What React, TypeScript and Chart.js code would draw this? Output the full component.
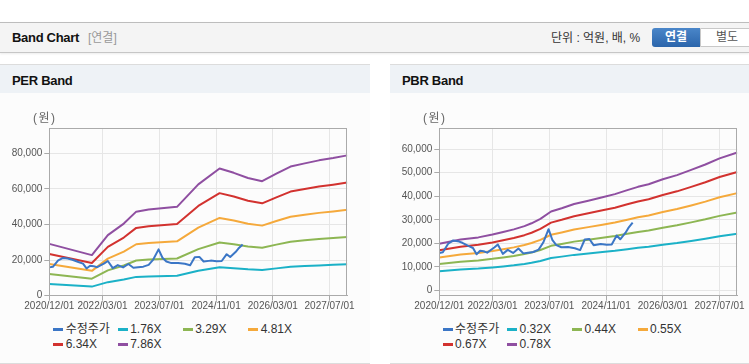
import React, { useEffect, useRef } from "react";
import { Chart, registerables } from "chart.js";

Chart.register(...registerables);

// ---------- DATA ----------
const X_TICK_LABELS = ["2020/12/01", "2022/03/01", "2023/07/01", "2024/11/01", "2026/03/01", "2027/07/01"];
const X_START = "2020/12/01";
const X_END = "2027/12/01";

// adjusted share price (months since 2020/12/01)
const PRICE_MONTHS = [0, 1, 2.5, 3.9, 5.2, 6.5, 8.2, 9.5, 10.5, 11.5, 12.5, 13.5, 15.5, 16.5, 17.9, 19.3, 20.8, 22.3, 23.7, 25, 26.5, 28, 29.3, 30.8, 31.9, 33, 34.4, 36.3, 38.2, 39.7, 41, 42.3, 43.5, 45.5, 47.2, 48.6, 50, 51, 52.5, 53.3, 54.5];
const PRICE_VALUES = [15900, 16200, 19800, 21200, 20900, 20200, 18900, 18000, 15300, 16800, 16600, 16000, 18200, 19500, 15500, 17200, 15900, 17800, 15700, 16000, 16300, 17300, 20300, 26000, 21300, 19200, 18300, 18400, 17900, 17100, 21600, 21800, 19200, 19700, 19400, 19500, 23300, 21700, 24500, 26500, 28800];

// PER band
const PER_BAND_MONTHS = [0, 12, 16.5, 21, 24.5, 28, 36, 42, 48, 52, 56, 60, 64, 68, 72, 76, 80, 84];
const PER_NAMES = ["1.76X", "3.29X", "4.81X", "6.34X", "7.86X"];
const PER_176 = [6520, 5110, 7610, 9070, 10570, 10840, 11170, 14000, 15990, 15450, 14800, 14400, 15340, 16230, 16640, 17020, 17310, 17650];
const PER_329 = [12180, 9540, 14230, 16950, 19760, 20260, 20890, 26160, 29890, 28880, 27670, 26920, 28670, 30350, 31100, 31810, 32360, 32980];
const PER_481 = [17810, 13950, 20810, 24780, 28890, 29620, 30540, 38250, 43690, 42230, 40450, 39350, 41920, 44370, 45470, 46510, 47310, 48220];
const PER_634 = [23470, 18390, 27430, 32670, 38070, 39040, 40250, 50410, 57590, 55660, 53320, 51870, 55250, 58480, 59930, 61300, 62350, 63560];
const PER_786 = [29100, 22800, 34000, 40500, 47200, 48400, 49900, 62500, 71400, 69000, 66100, 64300, 68500, 72500, 74300, 76000, 77300, 78800];
const PER_Y_TICKS = [0, 20000, 40000, 60000, 80000];

// PBR band
const PBR_BAND_MONTHS = [0, 6, 11, 15, 18, 21, 24, 26, 28.5, 31.5, 34.5, 38, 42, 46, 49.5, 53, 56, 59, 63, 67, 71, 75, 79, 84];
const PBR_NAMES = ["0.32X", "0.44X", "0.55X", "0.67X", "0.78X"];
const PBR_032 = [8120, 8860, 9230, 9720, 10170, 10630, 11200, 11690, 12470, 13740, 14320, 15060, 15630, 16250, 16780, 17480, 18050, 18500, 19360, 20100, 21010, 21950, 23020, 24040];
const PBR_044 = [11170, 12190, 12690, 13370, 13990, 14610, 15400, 16080, 17150, 18900, 19690, 20700, 21490, 22340, 23070, 24030, 24820, 25440, 26630, 27640, 28880, 30180, 31650, 33060];
const PBR_055 = [13960, 15230, 15870, 16710, 17490, 18260, 19250, 20100, 21440, 23620, 24610, 25880, 26870, 27920, 28840, 30040, 31030, 31800, 33280, 34550, 36100, 37720, 39560, 41320];
const PBR_067 = [17010, 18550, 19330, 20360, 21300, 22250, 23450, 24480, 26110, 28780, 29980, 31520, 32730, 34020, 35130, 36590, 37800, 38740, 40540, 42090, 43980, 45960, 48190, 50340];
const PBR_078 = [19800, 21600, 22500, 23700, 24800, 25900, 27300, 28500, 30400, 33500, 34900, 36700, 38100, 39600, 40900, 42600, 44000, 45100, 47200, 49000, 51200, 53500, 56100, 58600];
const PBR_Y_TICKS = [0, 10000, 20000, 30000, 40000, 50000, 60000];

const PRICE_NAME = "수정주가";
const COLORS = ["#3b76c6", "#1bb1c7", "#8db653", "#f5a93b", "#d2322f", "#8f4fa1"];

// ---------- helpers ----------
const FONT = "'Liberation Sans', 'Noto Sans CJK KR', sans-serif";
const monthIndex = (label: string) => {
  const [y, m] = label.split("/").map(Number);
  return (y - 2020) * 12 + (m - 12);
};
const pts = (xs: number[], ys: number[]) => xs.map((x, i) => ({ x, y: ys[i] }));

type BandProps = {
  left: number;
  width: number;
  padRight: number;
  bandMonths: number[];
  bands: number[][];
  yMin: number;
  yMax: number;
  yTicks: number[];
};

const borderPlugin = {
  id: "plotBorder",
  afterDraw(chart: any) {
    const { ctx, chartArea } = chart;
    ctx.save();
    ctx.strokeStyle = "#aaaaaa";
    ctx.lineWidth = 1;
    const l = Math.round(chartArea.left) + 0.5;
    const t = Math.round(chartArea.top) + 0.5;
    const r = Math.round(chartArea.right) - 0.5;
    const b = Math.round(chartArea.bottom) - 0.5;
    ctx.strokeRect(l, t, r - l, b - t);
    ctx.restore();
  },
};

function BandCanvas(p: BandProps) {
  const ref = useRef<HTMLCanvasElement>(null);
  useEffect(() => {
    if (!ref.current) return;
    const xTicks = X_TICK_LABELS.map(monthIndex);
    const datasets: any[] = [
      {
        label: PRICE_NAME,
        data: pts(PRICE_MONTHS, PRICE_VALUES),
        borderColor: COLORS[0],
        borderWidth: 2,
      },
      ...p.bands.map((vals, i) => ({
        label: String(i),
        data: pts(p.bandMonths, vals),
        borderColor: COLORS[i + 1],
        borderWidth: 2,
      })),
    ];
    const chart = new Chart(ref.current, {
      type: "line",
      data: { datasets },
      plugins: [borderPlugin],
      options: {
        animation: false,
        responsive: false,
        maintainAspectRatio: false,
        layout: { padding: { top: 8.3, right: p.padRight, bottom: 0, left: 0 } },
        plugins: { legend: { display: false }, tooltip: { enabled: false } },
        elements: { point: { radius: 0 }, line: { tension: 0, borderJoinStyle: "round" } },
        scales: {
          x: {
            type: "linear",
            min: monthIndex(X_START),
            max: monthIndex(X_END),
            afterBuildTicks: (s: any) => {
              s.ticks = xTicks.map((v) => ({ value: v }));
            },
            afterFit: (s: any) => {
              s.height = 24.3;
            },
            ticks: {
              autoSkip: false,
              maxRotation: 0,
              padding: 0,
              color: "#555",
              font: { family: FONT, size: 10 },
              callback: (v: any) => {
                const i = xTicks.indexOf(Number(v));
                return i >= 0 ? X_TICK_LABELS[i] : "";
              },
            },
            grid: { color: "#e6e6e6", tickColor: "#aaaaaa", tickLength: 5 },
            border: { color: "#aaaaaa" },
          },
          y: {
            type: "linear",
            min: p.yMin,
            max: p.yMax,
            afterBuildTicks: (s: any) => {
              s.ticks = p.yTicks.map((v) => ({ value: v }));
            },
            afterFit: (s: any) => {
              s.width = 49.3;
            },
            ticks: {
              padding: 2,
              color: "#555",
              font: { family: FONT, size: 10 },
              callback: (v: any) => Number(v).toLocaleString("en-US"),
            },
            grid: { color: "#e6e6e6", tickColor: "#aaaaaa", tickLength: 5 },
            border: { color: "#aaaaaa" },
          },
        },
      } as any,
    });
    return () => chart.destroy();
  }, []);
  return (
    <canvas
      ref={ref}
      width={p.width}
      height={200}
      style={{ position: "absolute", left: p.left, top: 120, width: p.width, height: 200, display: "block" }}
    />
  );
}

function Legend({ left, names }: { left: number; names: string[] }) {
  const all = [PRICE_NAME, ...names];
  const cols = [0, 64.5, 129.5, 195];
  return (
    <>
      {all.map((n, i) => {
        const col = i % 4;
        const row = Math.floor(i / 4);
        const cy = row === 0 ? 329.3 : 344;
        return (
          <div key={n} style={{ position: "absolute", left: left + cols[col], top: cy - 8, height: 16, display: "flex", alignItems: "center", whiteSpace: "nowrap" }}>
            <div style={{ width: 10, height: 3, background: COLORS[i] }} />
            <span style={{ marginLeft: 2.4, fontSize: 12, color: "#333", lineHeight: "16px" }}>{n}</span>
          </div>
        );
      })}
    </>
  );
}

function Panel({ left, width, title }: { left: number; width: number; title: string }) {
  return (
    <>
      <div style={{ position: "absolute", left, top: 64, width, height: 298, borderTop: "1px solid #dcdcdc", borderBottom: "1px solid #dcdcdc", background: "#fcfcfc" }} />
      <div style={{ position: "absolute", left, top: 65, width, height: 28, background: "#eef2f6" }} />
      <div style={{ position: "absolute", left: left + 12, top: 72, lineHeight: "18px", fontSize: 13, fontWeight: "bold", color: "#111", letterSpacing: "-0.3px" }}>{title}</div>
    </>
  );
}

function UnitLabel({ left }: { left: number }) {
  return (
    <div style={{ position: "absolute", left, top: 110, lineHeight: "16px", fontSize: 12, color: "#666", zIndex: 2, whiteSpace: "nowrap" }}>
      <span>(</span>
      <span style={{ margin: "0 1.5px" }}>원</span>
      <span>)</span>
    </div>
  );
}

export default function App() {
  useEffect(() => {
    document.body.style.margin = "0";
  }, []);
  return (
    <div style={{ position: "relative", width: 749, height: 364, overflow: "hidden", background: "#fff", fontFamily: FONT }}>
      {/* top header bar */}
      <div style={{ position: "absolute", left: 0, top: 22, width: 749, height: 29, background: "#f4f4f4", borderTop: "1px solid #bdbdbd", borderBottom: "1px solid #c6c6c6", boxShadow: "0 1px 2px rgba(0,0,0,0.08)" }} />
      <div style={{ position: "absolute", left: 12, top: 29, lineHeight: "18px", fontSize: 13, fontWeight: "bold", color: "#111", letterSpacing: "-0.3px" }}>Band Chart</div>
      <div style={{ position: "absolute", left: 88, top: 30, lineHeight: "16px", fontSize: 12, color: "#999" }}>[연결]</div>
      <div style={{ position: "absolute", left: 551, top: 30, lineHeight: "16px", fontSize: 12, color: "#333" }}>단위 : 억원, 배, %</div>
      <div style={{ position: "absolute", left: 652, top: 28, width: 48, height: 19, background: "linear-gradient(#4a86c9, #2b65ab)", borderRadius: "3px 0 0 3px", color: "#fff", fontSize: 12, fontWeight: "bold", textAlign: "center", lineHeight: "19px" }}>연결</div>
      <div style={{ position: "absolute", left: 700, top: 28, width: 52, height: 17, background: "#fff", border: "1px solid #c8c8c8", borderRadius: "0 3px 3px 0", color: "#555", fontSize: 12, textAlign: "center", lineHeight: "17px", boxSizing: "content-box" }}>별도</div>

      <Panel left={0} width={370} title="PER Band" />
      <Panel left={390} width={359} title="PBR Band" />

      <BandCanvas left={0} width={360} padRight={12.7} bandMonths={PER_BAND_MONTHS} bands={[PER_176, PER_329, PER_481, PER_634, PER_786]} yMin={0} yMax={94000} yTicks={PER_Y_TICKS} />
      <BandCanvas left={390} width={359} padRight={11.7} bandMonths={PBR_BAND_MONTHS} bands={[PBR_032, PBR_044, PBR_055, PBR_067, PBR_078]} yMin={-2300} yMax={68900} yTicks={PBR_Y_TICKS} />

      <UnitLabel left={33} />
      <UnitLabel left={423} />

      <Legend left={53.3} names={PER_NAMES} />
      <Legend left={442.7} names={PBR_NAMES} />
    </div>
  );
}
